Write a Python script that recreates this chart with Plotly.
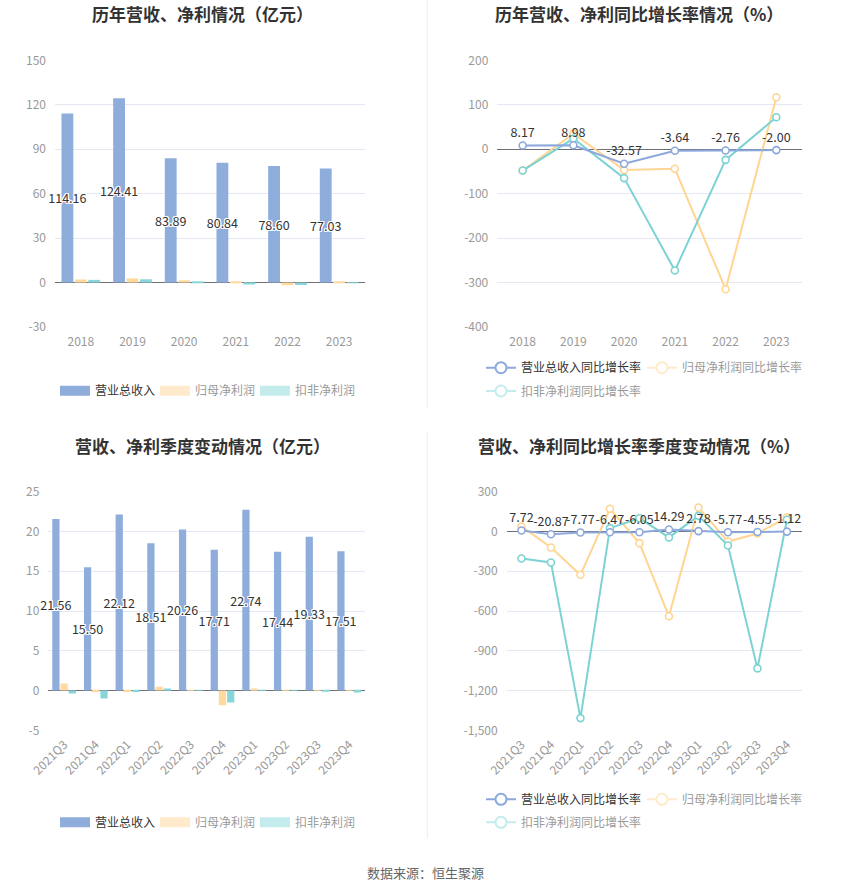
import plotly.graph_objects as go

# ---------------- data ----------------
years = ["2018", "2019", "2020", "2021", "2022", "2023"]
rev_y = [114.16, 124.41, 83.89, 80.84, 78.60, 77.03]
np_y = [2.1, 2.8, 1.5, 0.85, -1.8, 0.3]
kf_y = [1.8, 2.2, 0.77, -1.33, -1.64, -0.46]

rev_g_y = [8.17, 8.98, -32.57, -3.64, -2.76, -2.00]
np_g_y = [-48, 35, -47, -44, -315, 117]
kf_g_y = [-48, 24, -65, -273, -24, 72]

quarters = ["2021Q3", "2021Q4", "2022Q1", "2022Q2", "2022Q3",
            "2022Q4", "2023Q1", "2023Q2", "2023Q3", "2023Q4"]
rev_q = [21.56, 15.50, 22.12, 18.51, 20.26, 17.71, 22.74, 17.44, 19.33, 17.51]
np_q = [0.88, -0.2, -0.2, 0.46, 0.05, -1.84, 0.25, 0.08, 0.06, 0.05]
kf_q = [-0.38, -1.0, -0.2, 0.25, 0.02, -1.5, 0.05, 0.02, -0.05, -0.25]

rev_g_q = [7.72, -20.87, -7.77, -6.47, -6.05, 14.29, 2.78, -5.77, -4.55, -1.12]
np_g_q = [38, -121, -327, 171, -88, -640, 181, -76, -15, 106]
kf_g_q = [-204, -234, -1408, 25, 100, -45, 118, -106, -1033, 88]

ticks_tl = [-30, 0, 30, 60, 90, 120, 150]
ticks_tr = [-400, -300, -200, -100, 0, 100, 200]
ticks_bl = [-5, 0, 5, 10, 15, 20, 25]
ticks_br = [-1500, -1200, -900, -600, -300, 0, 300]
ticktext_tl = ["-30", "0", "30", "60", "90", "120", "150"]
ticktext_tr = ["-400", "-300", "-200", "-100", "0", "100", "200"]
ticktext_bl = ["-5", "0", "5", "10", "15", "20", "25"]
ticktext_br = ["-1,500", "-1,200", "-900", "-600", "-300", "0", "300"]

names_bar = ["营业总收入", "归母净利润", "扣非净利润"]
names_line = ["营业总收入同比增长率", "归母净利润同比增长率", "扣非净利润同比增长率"]

# ---------------- style ----------------
W, H = 850, 891
FONT = "Noto Sans CJK SC"
bar_colors = ["#8EADDB", "#FFD99E", "#88D6D8"]
line_colors = ["#8CA8DC", "#FFD591", "#7DD3D4"]
legend_colors = ["#8EADDB", "#FFEBCC", "#C4ECEC"]
text_cols = ["#333333", "#9a9a9a", "#9a9a9a"]
grid_c = "#E3E8F2"
axis_c = "#6E7079"
lab_c = "#999999"
shadow = ("1px 1px 0 #fff, -1px -1px 0 #fff, 1px -1px 0 #fff, -1px 1px 0 #fff, "
          "0 1px 0 #fff, 0 -1px 0 #fff, 1px 0 0 #fff, -1px 0 0 #fff")


def px_x(p):
    return p / W


def px_y(p):
    return 1 - p / H


panels = {
    1: dict(x=(55, 365), y=(60.3, 327), rng=(-30, 150), tv=ticks_tl, tt=ticktext_tl, n=len(years)),
    2: dict(x=(497.3, 801.7), y=(60.3, 327), rng=(-400, 200), tv=ticks_tr, tt=ticktext_tr, n=len(years)),
    3: dict(x=(48.3, 365), y=(491.7, 730.3), rng=(-5, 25), tv=ticks_bl, tt=ticktext_bl, n=len(quarters)),
    4: dict(x=(506.7, 801.7), y=(491.7, 730.3), rng=(-1500, 300), tv=ticks_br, tt=ticktext_br, n=len(quarters)),
}

fig = go.Figure()


def ax(i):
    return ("x" if i == 1 else f"x{i}"), ("y" if i == 1 else f"y{i}")


bar_leg = {1: "legend", 3: "legend3"}
line_leg = {2: ["legend2", "legend2", "legend5"], 4: ["legend4", "legend4", "legend6"]}

# ---- bar panels ----
for i, cats, series in [(1, years, [rev_y, np_y, kf_y]), (3, quarters, [rev_q, np_q, kf_q])]:
    xa, ya = ax(i)
    for k, vals in enumerate(series):
        kw = {}
        if k == 0:
            kw = dict(text=[f"{v:.2f}" for v in vals], textposition="inside",
                      insidetextanchor="middle", textangle=0, constraintext="none",
                      insidetextfont=dict(family=FONT, size=12.5, color="#333", shadow=shadow))
        fig.add_trace(go.Bar(x=cats, y=vals, name=names_bar[k], marker_color=bar_colors[k],
                             marker_line_width=0, xaxis=xa, yaxis=ya, showlegend=False,
                             cliponaxis=False, hoverinfo="skip", **kw))
    for k in range(3):
        fig.add_trace(go.Scatter(x=[None], y=[None], mode="lines",
                                 line=dict(color=legend_colors[k], width=14),
                                 name=f"<span style='color:{text_cols[k]}'>{names_bar[k]}</span>",
                                 xaxis=xa, yaxis=ya, legend=bar_leg[i], showlegend=True))

# ---- line panels ----
for i, cats, series in [(2, years, [rev_g_y, np_g_y, kf_g_y]), (4, quarters, [rev_g_q, np_g_q, kf_g_q])]:
    xa, ya = ax(i)
    for k in [1, 2, 0]:
        vals = series[k]
        if k == 0:
            kw = dict(mode="lines+markers+text", text=[f"{v:.2f}" for v in vals],
                      textposition="top center",
                      textfont=dict(family=FONT, size=12.5, color="#333"))
        else:
            kw = dict(mode="lines+markers")
        fig.add_trace(go.Scatter(x=cats, y=vals, name=names_line[k],
                                 line=dict(color=line_colors[k], width=2),
                                 marker=dict(symbol="circle", size=7, color="white",
                                             line=dict(color=line_colors[k], width=1.6)),
                                 xaxis=xa, yaxis=ya, showlegend=False, cliponaxis=False,
                                 hoverinfo="skip", **kw))
    for k in range(3):
        lc = line_colors[0] if k == 0 else legend_colors[k]
        fig.add_trace(go.Scatter(x=[None], y=[None], mode="lines+markers",
                                 line=dict(color=lc, width=2),
                                 marker=dict(symbol="circle", size=11, color="white",
                                             line=dict(color=lc, width=2)),
                                 name=f"<span style='color:{text_cols[k]}'>{names_line[k]}</span>",
                                 xaxis=xa, yaxis=ya, legend=line_leg[i][k], showlegend=True))

layout = dict(
    width=W, height=H, margin=dict(l=0, r=0, t=0, b=0, autoexpand=False),
    paper_bgcolor="white", plot_bgcolor="white",
    font=dict(family=FONT, size=12, color=lab_c),
    bargap=0.22, bargroupgap=0.12, barmode="group", hovermode=False,
)

for i, p in panels.items():
    xk = "xaxis" if i == 1 else f"xaxis{i}"
    yk = "yaxis" if i == 1 else f"yaxis{i}"
    xa, ya = ax(i)
    d0, d1 = px_y(p["y"][1]), px_y(p["y"][0])
    d0, d1 = min(d0, d1), max(d0, d1)
    layout[xk] = dict(domain=[px_x(p["x"][0]), px_x(p["x"][1])], anchor=ya,
                      type="category", showgrid=False, showline=False, zeroline=False,
                      ticks="", tickfont=dict(size=12, color=lab_c), automargin=False,
                      tickangle=(-45 if i >= 3 else 0), ticklabelstandoff=(4 if i >= 3 else 6),
                      range=[-0.5, p["n"] - 0.5])
    layout[yk] = dict(domain=[d0, d1], anchor=xa, range=list(p["rng"]), automargin=False,
                      tickvals=p["tv"], ticktext=p["tt"], showgrid=True, gridcolor=grid_c,
                      gridwidth=1, zeroline=True, zerolinecolor=axis_c, zerolinewidth=1,
                      showline=False, ticks="", ticklabelstandoff=8,
                      tickfont=dict(size=12, color=lab_c))
    r0, r1 = p["rng"]
    pos = d0 + (0 - r0) / (r1 - r0) * (d1 - d0)
    ok = f"xaxis{i + 4}"
    layout[ok] = dict(domain=[px_x(p["x"][0]), px_x(p["x"][1])], overlaying=xa,
                      anchor="free", position=pos, type="linear", automargin=False,
                      range=[-0.5, p["n"] - 0.5], tickvals=list(range(p["n"])),
                      ticks="outside", ticklen=5, tickcolor=axis_c, tickwidth=1,
                      showticklabels=False, showgrid=False, zeroline=False, showline=False)

legend_common = dict(orientation="h", font=dict(family=FONT, size=12, color="#333"),
                     bgcolor="rgba(0,0,0,0)", itemclick=False, itemdoubleclick=False,
                     xanchor="left", yanchor="middle", entrywidthmode="pixels")
layout["legend"] = dict(x=px_x(55), y=px_y(390.7), entrywidth=55, **legend_common)
layout["legend3"] = dict(x=px_x(55), y=px_y(822.3), entrywidth=55, **legend_common)
layout["legend2"] = dict(x=px_x(481), y=px_y(367.7), entrywidth=116, **legend_common)
layout["legend5"] = dict(x=px_x(481), y=px_y(391), entrywidth=116, **legend_common)
layout["legend4"] = dict(x=px_x(481), y=px_y(799.3), entrywidth=116, **legend_common)
layout["legend6"] = dict(x=px_x(481), y=px_y(822.3), entrywidth=116, **legend_common)

fig.update_layout(**layout)

titles = [("历年营收、净利情况（亿元）", 202, 13.5),
          ("历年营收、净利同比增长率情况（%）", 639, 13.5),
          ("营收、净利季度变动情况（亿元）", 202.5, 445),
          ("营收、净利同比增长率季度变动情况（%）", 639, 445)]
for t, x, y in titles:
    fig.add_annotation(text=f"<b>{t}</b>", x=px_x(x), y=px_y(y), xref="paper", yref="paper",
                       xanchor="center", yanchor="middle", showarrow=False,
                       font=dict(family=FONT, size=17, color="#333"))

fig.add_annotation(text="数据来源：恒生聚源", x=px_x(425), y=px_y(872), xref="paper", yref="paper",
                   xanchor="center", yanchor="middle", showarrow=False,
                   font=dict(family=FONT, size=13, color="#666"))

for ya0, ya1 in [(0, 408), (431, 838)]:
    fig.add_shape(type="line", xref="paper", yref="paper", x0=px_x(427.3), x1=px_x(427.3),
                  y0=px_y(ya0), y1=px_y(ya1), line=dict(color="#EEEEEE", width=1))

fig.write_html("out.html", config={"displayModeBar": False},
               post_script="document.body.style.margin='0';")
